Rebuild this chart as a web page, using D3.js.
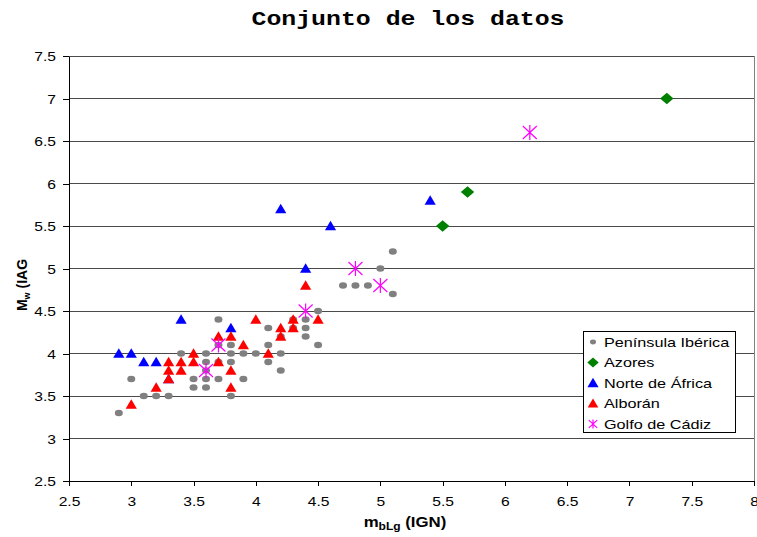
<!DOCTYPE html>
<html>
<head>
<meta charset="utf-8">
<script src="https://cdn.jsdelivr.net/npm/d3@7/dist/d3.min.js"></script>
<style>
  html, body { margin: 0; padding: 0; background: #fff; }
  svg { display: block; }
  text { font-family: "Liberation Sans", Arial, sans-serif; }
</style>
</head>
<body>
<svg id="chart" width="757" height="537"></svg>
<script>
const title = "Conjunto de los datos";
const xTicks = [2.5, 3, 3.5, 4, 4.5, 5, 5.5, 6, 6.5, 7, 7.5, 8];
const yTicks = [2.5, 3, 3.5, 4, 4.5, 5, 5.5, 6, 6.5, 7, 7.5];
const seriesNames = ["Península Ibérica", "Azores", "Norte de África", "Alborán", "Golfo de Cádiz"];

const peninsula = [
  [2.9,3.3],[3.0,3.7],[3.1,3.5],[3.2,3.5],[3.3,3.5],
  [3.4,4.0],[3.5,3.7],[3.5,3.6],[3.6,4.0],[3.6,3.9],[3.6,3.7],[3.6,3.6],[3.6,3.8],
  [3.7,4.4],[3.7,3.9],[3.7,3.7],[3.7,4.1],
  [3.8,4.1],[3.8,4.0],[3.8,3.9],[3.8,3.5],
  [3.9,4.0],[3.9,3.7],[4.0,4.0],
  [4.1,4.3],[4.1,4.1],[4.1,3.9],
  [4.2,4.2],[4.2,4.0],[4.2,3.8],
  [4.3,4.4],[4.3,4.3],
  [4.4,4.4],[4.4,4.3],[4.4,4.2],
  [4.5,4.5],[4.5,4.1],
  [4.7,4.8],[4.8,4.8],[4.9,4.8],
  [5.0,5.0],[5.1,5.2],[5.1,4.7]
];
const azores = [[5.5,5.5],[5.7,5.9],[7.3,7.0]];
const norteAfrica = [
  [2.9,4.0],[3.0,4.0],[3.1,3.9],[3.2,3.9],[3.3,3.7],[3.4,4.4],
  [3.8,4.3],[4.2,5.7],[4.4,5.0],[4.6,5.5],[5.4,5.8]
];
const alboran = [
  [3.0,3.4],[3.2,3.6],[3.3,3.9],[3.3,3.8],[3.3,3.7],[3.4,3.9],[3.4,3.8],
  [3.5,4.0],[3.5,3.9],[3.7,4.2],[3.7,3.9],[3.8,4.2],[3.8,3.8],[3.8,3.6],
  [3.9,4.1],[4.0,4.4],[4.1,4.0],[4.2,4.3],[4.2,4.2],[4.3,4.4],[4.3,4.3],
  [4.4,4.8],[4.5,4.4]
];
const golfoCadiz = [[3.6,3.8],[3.7,4.1],[4.4,4.5],[4.8,5.0],[5.0,4.8],[6.2,6.6]];

const STRETCH = 1.2;
const svg = d3.select("#chart");
const margin = { left: 69, right: 3, top: 56, bottom: 56 };
const W = 757, H = 537;

const x = d3.scaleLinear().domain([2.5, 8]).range([margin.left, W - margin.right]);
const y = d3.scaleLinear().domain([2.5, 7.5]).range([H - margin.bottom, margin.top]);

function stretchText(sel, f) {
  sel.each(function () {
    const len = this.getComputedTextLength();
    d3.select(this).attr("textLength", len * f).attr("lengthAdjust", "spacingAndGlyphs");
  });
}

// gridlines
svg.append("g").selectAll("line")
  .data(yTicks.filter(d => d > 2.5))
  .join("line")
  .attr("x1", x(2.5)).attr("x2", x(8))
  .attr("y1", d => y(d)).attr("y2", d => y(d))
  .attr("stroke", "#4a4a4a").attr("stroke-width", 1)
  .attr("shape-rendering", "crispEdges");

// right border
svg.append("line")
  .attr("x1", x(8)).attr("x2", x(8))
  .attr("y1", y(7.5)).attr("y2", y(2.5))
  .attr("stroke", "#808080").attr("shape-rendering", "crispEdges");

// axes
const xAxis = svg.append("g")
  .attr("transform", `translate(0,${y(2.5)})`)
  .call(d3.axisBottom(x).tickValues(xTicks).tickFormat(d => String(d)).tickSizeInner(5).tickSizeOuter(0));
const yAxis = svg.append("g")
  .attr("transform", `translate(${x(2.5)},0)`)
  .call(d3.axisLeft(y).tickValues(yTicks).tickFormat(d => String(d)).tickSizeInner(6).tickSizeOuter(0));

[xAxis, yAxis].forEach(a => {
  a.select(".domain").attr("stroke", "#000").attr("shape-rendering", "crispEdges");
  a.selectAll(".tick line").attr("stroke", "#000").attr("shape-rendering", "crispEdges");
  a.selectAll(".tick text")
    .attr("fill", "#000")
    .style("font-family", "'Liberation Sans', Arial, sans-serif")
    .style("font-size", "13px");
});
xAxis.selectAll(".tick text").attr("dy", null).attr("y", 25);
yAxis.selectAll(".tick text").attr("x", -13).attr("dy", "0.36em");
stretchText(xAxis.selectAll(".tick text"), STRETCH);
stretchText(yAxis.selectAll(".tick text"), STRETCH);

// marker drawers (s = size factor)
const drawers = [
  (g, c, s) => g.append("ellipse").attr("rx", 4 * s).attr("ry", 3.2 * s).attr("fill", c),
  (g, c, s) => g.append("path").attr("d", `M0,${-5.8*s} L${6.7*s},0 L0,${5.8*s} L${-6.7*s},0 Z`).attr("fill", c),
  (g, c, s) => g.append("path").attr("d", `M0,${-5.3*s} L${5.6*s},${4.3*s} L${-5.6*s},${4.3*s} Z`).attr("fill", c),
  (g, c, s) => g.append("path").attr("d", `M0,${-5.3*s} L${5.6*s},${4.3*s} L${-5.6*s},${4.3*s} Z`).attr("fill", c),
  (g, c, s) => g.append("path")
                 .attr("d", `M${-7*s},${-6.5*s} L${7*s},${6.5*s} M${-7*s},${6.5*s} L${7*s},${-6.5*s} M0,${-7.5*s} L0,${7.5*s}`)
                 .attr("stroke", c).attr("stroke-width", 1.2).attr("fill", "none")
];
const colors = ["#808080", "#008000", "#0000FF", "#FF0000", "#FF00FF"];
const allSeries = [peninsula, azores, norteAfrica, alboran, golfoCadiz];

allSeries.forEach((data, i) => {
  const g = svg.append("g");
  g.selectAll("g").data(data).join("g")
    .attr("transform", d => `translate(${x(d[0])},${y(d[1])})`)
    .each(function () { drawers[i](d3.select(this), colors[i], 1); });
});

// legend
const legendScale = [0.75, 0.85, 1, 0.95, 0.6];
const lg = svg.append("g");
lg.append("rect").attr("x", 583.5).attr("y", 331.5).attr("width", 152).attr("height", 101)
  .attr("fill", "#fff").attr("stroke", "#000").attr("stroke-width", 1);
seriesNames.forEach((name, i) => {
  const cy = 342 + i * 20.5;
  const mg = lg.append("g").attr("transform", `translate(593,${cy})`);
  drawers[i](mg, colors[i], legendScale[i]);
  const t = lg.append("text").attr("x", 604).attr("y", cy).attr("dy", "0.36em")
    .style("font-size", "13.5px").attr("fill", "#000").text(name);
  stretchText(t, STRETCH);
});

// title
svg.append("text")
  .attr("x", 408).attr("y", 25).attr("text-anchor", "middle")
  .style("font-family", "'Liberation Mono', 'Courier New', monospace")
  .style("font-weight", "bold").style("font-size", "20px")
  .attr("textLength", 313).attr("lengthAdjust", "spacingAndGlyphs")
  .text(title);

// x axis title
const xt = svg.append("text").attr("x", 405).attr("y", 527).attr("text-anchor", "middle")
  .style("font-weight", "bold").style("font-size", "14px").attr("fill", "#000");
xt.append("tspan").text("m");
xt.append("tspan").attr("dy", 3).style("font-size", "10px").text("bLg");
xt.append("tspan").attr("dy", -3).text(" (IGN)");
stretchText(xt, STRETCH);

// y axis title
const yt = svg.append("text").attr("transform", "translate(27,285) rotate(-90)")
  .attr("text-anchor", "middle")
  .style("font-weight", "bold").style("font-size", "14px").attr("fill", "#000");
yt.append("tspan").text("M");
yt.append("tspan").attr("dy", 3).style("font-size", "9px").text("w");
yt.append("tspan").attr("dy", -3).text(" (IAG");
</script>
</body>
</html>
